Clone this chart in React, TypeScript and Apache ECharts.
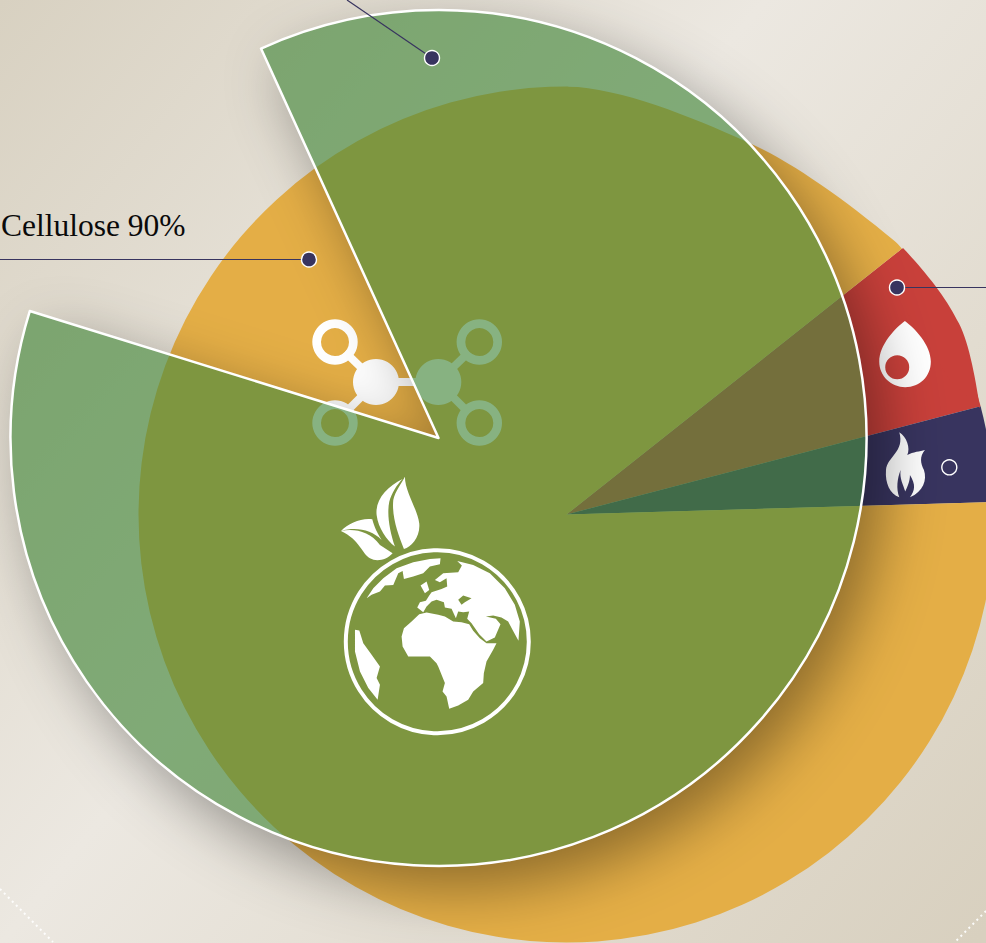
import React, { useEffect, useRef } from "react";
import * as echarts from "echarts";

const WIDTH = 986;
const HEIGHT = 943;

// Back pie, clockwise from its start angle
const backNames = ["Lignin", "Ash", "Cellulose"];
const backValues = [6.6, 3.6, 89.8];
const backColors = ["#c8403a", "#38345f", "#e4ae46"];
const backStart = 38.4;
const backCenter = [566.5, 514.5];
const backRadius = 428;

// Front pie: green slice and the empty slice
const frontNames = ["Green", "Gap"];
const frontValues = [86.6, 13.4];
const frontStart = 114.5;
const frontCenter = [438.5, 438];
const frontRadius = 428;
const frontColor = "rgba(70,137,62,0.65)";

const labelText = "Cellulose 90%";

const bgStops = [
  { offset: 0, color: "#d8d1c1" },
  { offset: 0.44, color: "#ece8e1" },
  { offset: 1, color: "#d8d0bf" },
];

const DROP =
  "M375,303 C345,325 298,375 298,425 C298,470 335,502 376,502 C420,502 453,470 453,425 C453,375 405,325 375,303Z M316,442 A36,36 0 0 1 388,442 A36,36 0 0 1 316,442Z";
const FLAME =
  "M118,37 C140,50 152,85 142,105 C160,95 180,95 195,90 C178,110 182,130 192,150 C202,180 190,215 150,232 C165,210 168,195 150,165 C150,185 142,200 136,215 C130,195 118,175 122,150 C112,175 108,205 118,232 C90,222 75,190 78,150 C82,110 135,95 118,37Z";
const LEAVES =
  "M218,42 C170,65 135,105 140,150 C145,190 170,225 195,245 C180,200 170,150 178,110 C185,85 200,60 218,42Z " +
  "M225,35 C225,80 262,130 268,175 C272,215 245,245 222,252 C205,210 185,155 190,105 C195,80 215,55 225,35Z " +
  "M33,198 C75,190 120,200 150,240 L188,265 C170,285 140,292 120,280 C95,265 90,225 33,198Z " +
  "M33,198 C55,175 95,158 127,163 C132,185 145,210 155,225 C125,195 80,185 33,198Z";
const LAND =
  "M110,400 L130,370 L160,340 L200,310 L250,292 L300,282 L332,280 L330,298 L300,305 L280,325 L250,335 L222,342 L218,318 L205,325 L190,360 L165,362 L150,380 L125,390Z " +
  "M272,362 L290,350 L298,375 L285,385Z " +
  "M262,428 L270,412 L288,408 L298,392 L305,382 L335,372 L352,365 L350,340 L330,352 L315,345 L340,325 L385,322 L396,302 L382,288 L430,300 L480,325 L525,370 L555,420 L570,470 L566,528 L548,495 L535,470 L515,458 L490,452 L468,455 L498,462 L512,478 L495,518 L470,530 L448,508 L425,475 L412,462 L418,440 L400,442 L385,440 L378,460 L365,432 L345,428 L342,412 L320,405 L305,410 L290,425 L280,442Z " +
  "M385,405 L395,420 L405,412 L425,400 L400,392Z " +
  "M215,515 L222,490 L245,470 L268,448 L290,443 L325,450 L345,455 L370,470 L395,472 L418,478 L430,498 L450,520 L470,535 L500,535 L490,555 L470,590 L462,625 L460,655 L430,680 L415,705 L385,722 L358,732 L350,695 L338,680 L345,655 L325,605 L320,595 L300,575 L265,575 L235,575 L218,545Z " +
  "M75,495 L88,497 L100,535 L125,570 L150,605 L140,640 L150,660 L143,705 L115,670 L90,620 L75,560Z";
// The back pie's outline is not a true circle: it dips at upper right and bulges at the red slice.
const DENT =
  "M568,86.5 C620,88 690,116 747,142 C790,160 850,203 903,248 L935,240 L800,60 L600,60Z";
const BULGE =
  "M903,248 C920,266 945,295 957,320 C968,338 975,375 980,408 L950,380 L880,270Z";

echarts.graphic.registerShape("dropIcon", echarts.graphic.extendPath(DROP, {}));
echarts.graphic.registerShape("flameIcon", echarts.graphic.extendPath(FLAME, {}));
echarts.graphic.registerShape("leavesIcon", echarts.graphic.extendPath(LEAVES, {}));
echarts.graphic.registerShape("landIcon", echarts.graphic.extendPath(LAND, {}));
echarts.graphic.registerShape("dentShape", echarts.graphic.extendPath(DENT, {}));
echarts.graphic.registerShape("bulgeShape", echarts.graphic.extendPath(BULGE, {}));

const rad = (d: number) => (d * Math.PI) / 180;

function networkPieces(color: string) {
  const line = (x1: number, y1: number, x2: number, y2: number) => ({
    type: "line",
    shape: { x1, y1, x2, y2 },
    style: { stroke: color, lineWidth: 8, fill: null },
  });
  const ring = (cx: number, cy: number) => ({
    type: "ring",
    shape: { cx, cy, r: 22.7, r0: 14 },
    style: { fill: color },
  });
  const hub = (cx: number, cy: number) => ({
    type: "circle",
    shape: { cx, cy, r: 23 },
    style: { fill: color },
  });
  return [
    line(376, 382, 438, 382),
    line(376, 382, 345, 352),
    line(376, 382, 345, 413),
    line(438, 382, 469, 352),
    line(438, 382, 469, 413),
    ring(335, 342),
    ring(335, 423),
    ring(479.3, 342),
    ring(479.3, 423),
    hub(376, 382),
    hub(438.3, 382),
  ];
}

export default function App() {
  const ref = useRef<HTMLDivElement>(null);

  useEffect(() => {
    document.body.style.margin = "0";
    const chart = echarts.init(ref.current!, undefined, { renderer: "svg" });

    const makeBg = () =>
      new echarts.graphic.LinearGradient(0, 0, 1050, 850, bgStops, true);

    const frontTotal = frontValues.reduce((a, b) => a + b, 0);
    const backTotal = backValues.reduce((a, b) => a + b, 0);
    const frontSpan = (frontValues[0] / frontTotal) * 360;
    const clipShape = {
      cx: frontCenter[0],
      cy: frontCenter[1],
      r: frontRadius,
      r0: 0,
      startAngle: rad(-frontStart),
      endAngle: rad(-frontStart + frontSpan),
      clockwise: true,
    };

    const below = (el: any) => ({ z: 2, silent: true, ...el });
    const top = (el: any) => ({ z: 7, silent: true, ...el });

    const marker = (cx: number, cy: number) =>
      top({
        type: "circle",
        shape: { cx, cy, r: 7.5 },
        style: { fill: "#38345f", stroke: "#ffffff", lineWidth: 1.4 },
      });
    const leader = (x1: number, y1: number, x2: number, y2: number) =>
      top({
        type: "line",
        shape: { x1, y1, x2, y2 },
        style: { stroke: "#38345f", lineWidth: 1.2, fill: null },
      });
    const dotted = (x1: number, y1: number, x2: number, y2: number) => ({
      type: "line",
      z: 1,
      silent: true,
      shape: { x1, y1, x2, y2 },
      style: { stroke: "#ffffff", lineWidth: 2, lineDash: [2, 3.66], fill: null, opacity: 0.9 },
    });

    chart.setOption({
      animation: false,
      tooltip: { show: false },
      legend: { show: false },
      graphic: {
        elements: [
          {
            type: "rect",
            z: 0,
            silent: true,
            shape: { x: 0, y: 0, width: WIDTH, height: HEIGHT },
            style: { fill: makeBg() },
          },
          dotted(0, 889, 53, 942),
          dotted(986, 911, 955, 942),
          below({ type: "dentShape", style: { fill: makeBg() } }),
          below({ type: "bulgeShape", style: { fill: backColors[0] } }),
          below({ type: "dropIcon", x: 780, y: 220, scaleX: 1 / 3, scaleY: 1 / 3, style: { fill: "#ffffff" } }),
          below({ type: "flameIcon", x: 860, y: 420, scaleX: 1 / 3, scaleY: 1 / 3, style: { fill: "#ffffff" } }),
          ...networkPieces("#ffffff").map((p) => below(p)),
          top({ type: "leavesIcon", x: 330, y: 465, scaleX: 1 / 3, scaleY: 1 / 3, style: { fill: "#ffffff" } }),
          top({ type: "landIcon", x: 330, y: 465, scaleX: 1 / 3, scaleY: 1 / 3, style: { fill: "#ffffff" } }),
          top({
            type: "circle",
            shape: { cx: 437.3, cy: 641.7, r: 91.5 },
            style: { fill: null, stroke: "#ffffff", lineWidth: 4 },
          }),
          leader(432, 58, 347, 0),
          leader(309, 259.5, 0, 259.5),
          leader(897, 287.5, 986, 287.5),
          marker(432, 58),
          marker(309, 259.5),
          marker(897, 287.5),
          marker(949.3, 467.3),
          top({
            type: "text",
            x: 1,
            y: 225,
            style: {
              text: labelText,
              fill: "#0a0a0a",
              font: '400 31.5px "Liberation Serif", serif',
              textAlign: "left",
              textVerticalAlign: "middle",
            },
          }),
        ],
      },
      series: [
        {
          type: "pie",
          name: "Back",
          z: 1,
          silent: true,
          center: backCenter,
          radius: [0, backRadius],
          startAngle: backStart,
          clockwise: true,
          sort: null,
          label: { show: false },
          labelLine: { show: false },
          emphasis: { disabled: true },
          data: backValues.map((value, i) => ({
            name: backNames[i],
            value,
            itemStyle: { color: backColors[i], borderWidth: 0 },
          })),
        },
        {
          type: "pie",
          name: "Shadow",
          z: 3,
          silent: true,
          center: frontCenter,
          radius: [0, frontRadius],
          startAngle: frontStart,
          clockwise: true,
          sort: null,
          label: { show: false },
          labelLine: { show: false },
          emphasis: { disabled: true },
          data: [
            {
              name: frontNames[0],
              value: frontValues[0],
              itemStyle: {
                color: makeBg(),
                shadowBlur: 60,
                shadowColor: "rgba(0,0,0,0.38)",
                shadowOffsetX: 18,
                shadowOffsetY: 22,
              },
            },
            {
              name: frontNames[1],
              value: frontValues[1],
              itemStyle: { color: "rgba(0,0,0,0)" },
            },
          ],
        },
        {
          type: "custom",
          name: "Back through front",
          coordinateSystem: "none",
          z: 4,
          silent: true,
          data: backValues,
          renderItem: (params: any) => {
            const before = backValues.slice(0, params.dataIndex).reduce((a, b) => a + b, 0);
            const s = -backStart + (before / backTotal) * 360;
            const e = s + (backValues[params.dataIndex] / backTotal) * 360;
            return {
              type: "sector",
              shape: {
                cx: backCenter[0],
                cy: backCenter[1],
                r: backRadius,
                r0: 0,
                startAngle: rad(s),
                endAngle: rad(e),
                clockwise: true,
              },
              style: { fill: backColors[params.dataIndex] },
              clipPath: { type: "sector", shape: clipShape },
            };
          },
        },
        {
          type: "custom",
          name: "Icon through front",
          coordinateSystem: "none",
          z: 5,
          silent: true,
          data: [1],
          renderItem: () => ({
            type: "group",
            clipPath: { type: "sector", shape: clipShape },
            children: [
              { type: "dentShape", style: { fill: makeBg() } },
              ...networkPieces("#ffffff"),
            ],
          }),
        },
        {
          type: "pie",
          name: "Front",
          z: 6,
          silent: true,
          center: frontCenter,
          radius: [0, frontRadius],
          startAngle: frontStart,
          clockwise: true,
          sort: null,
          label: { show: false },
          labelLine: { show: false },
          emphasis: { disabled: true },
          data: [
            {
              name: frontNames[0],
              value: frontValues[0],
              itemStyle: { color: frontColor, borderColor: "#ffffff", borderWidth: 2.5 },
            },
            {
              name: frontNames[1],
              value: frontValues[1],
              itemStyle: { color: "rgba(0,0,0,0)", borderWidth: 0 },
            },
          ],
        },
      ],
    });

    return () => chart.dispose();
  }, []);

  return (
    <div
      ref={ref}
      style={{ position: "absolute", left: 0, top: 0, width: WIDTH, height: HEIGHT }}
    />
  );
}
